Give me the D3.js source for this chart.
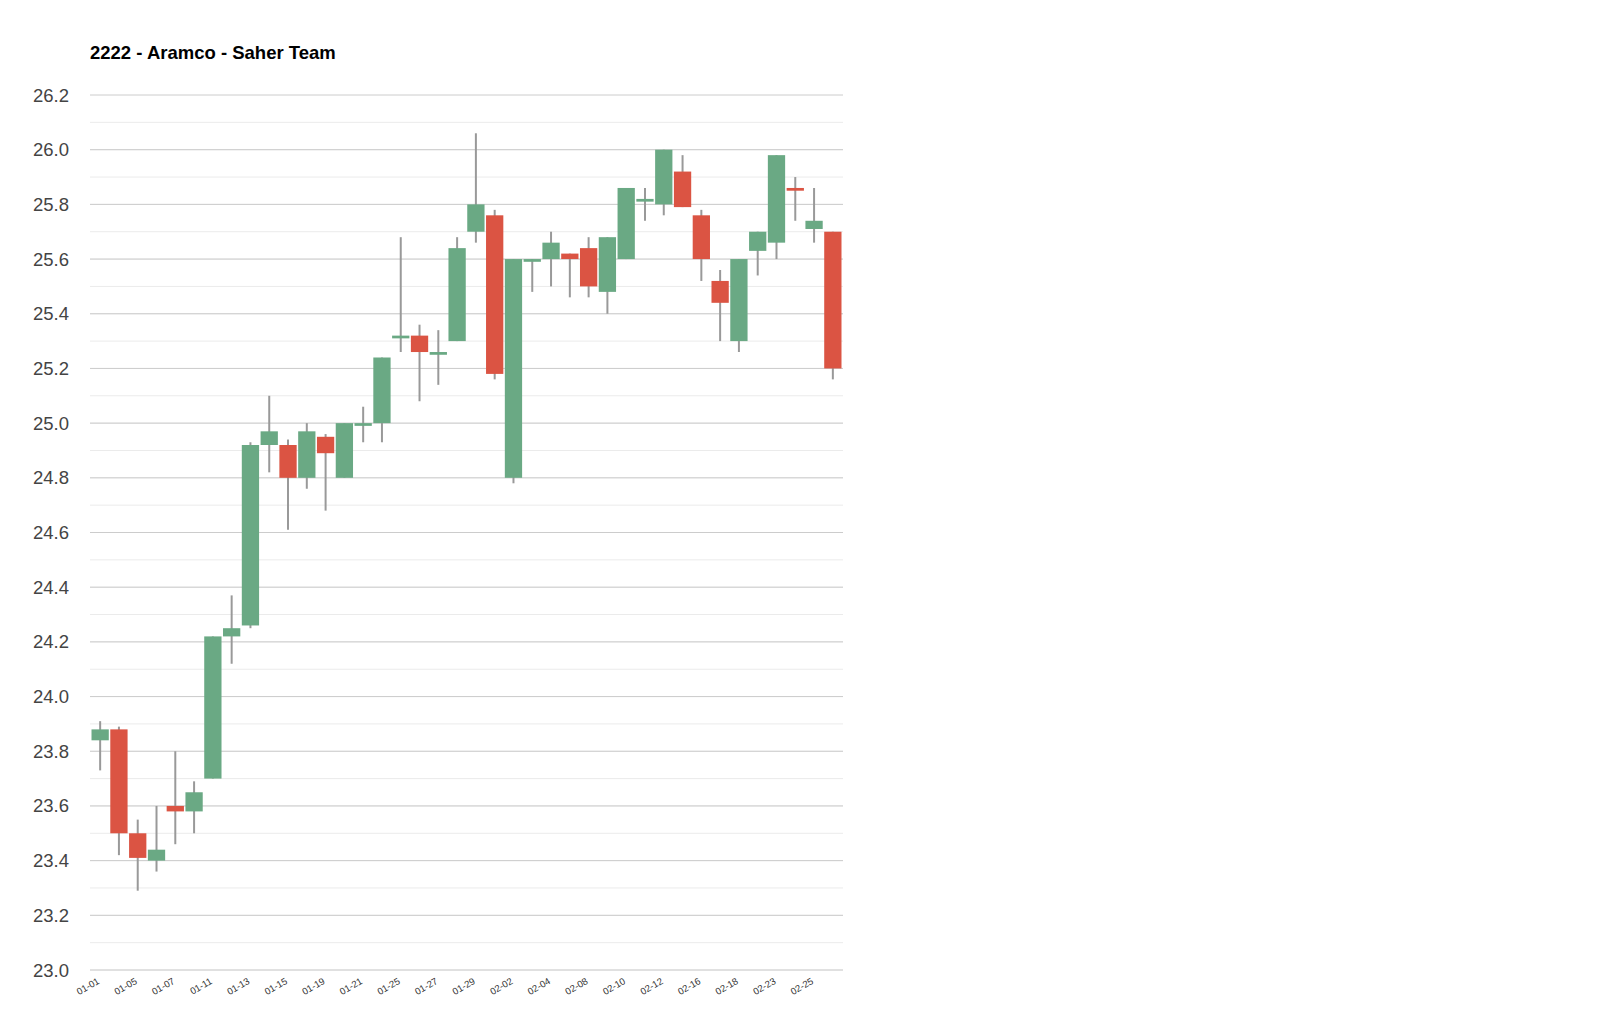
<!DOCTYPE html><html><head><meta charset="utf-8"><script src="https://cdn.jsdelivr.net/npm/d3@7"></script>
<style>body{margin:0;background:#fff;font-family:"Liberation Sans",Arial,sans-serif}</style></head><body><svg id="c" width="1600" height="1026"></svg>
<script>
const dates=["01-01","01-04","01-05","01-06","01-07","01-08","01-11","01-12","01-13","01-14","01-15","01-18","01-19","01-20","01-21","01-22","01-25","01-26","01-27","01-28","01-29","02-01","02-02","02-03","02-04","02-05","02-08","02-09","02-10","02-11","02-12","02-15","02-16","02-17","02-18","02-22","02-23","02-24","02-25","02-26"];
const open=[23.84,23.88,23.50,23.40,23.60,23.58,23.70,24.22,24.26,24.92,24.92,24.80,24.95,24.80,24.99,25.00,25.31,25.32,25.25,25.30,25.70,25.76,24.80,25.59,25.60,25.62,25.64,25.48,25.60,25.81,25.80,25.92,25.76,25.52,25.30,25.63,25.66,25.86,25.71,25.70];
const close=[23.88,23.50,23.41,23.44,23.58,23.65,24.22,24.25,24.92,24.97,24.80,24.97,24.89,25.00,25.00,25.24,25.32,25.26,25.26,25.64,25.80,25.18,25.60,25.60,25.66,25.60,25.50,25.68,25.86,25.82,26.00,25.79,25.60,25.44,25.60,25.70,25.98,25.85,25.74,25.20];
const high=[23.91,23.89,23.55,23.60,23.80,23.69,24.22,24.37,24.93,25.10,24.94,25.00,24.96,25.00,25.06,25.24,25.68,25.36,25.34,25.68,26.06,25.78,25.60,25.60,25.70,25.62,25.68,25.68,25.86,25.86,26.00,25.98,25.78,25.56,25.60,25.70,25.98,25.90,25.86,25.70];
const low=[23.73,23.42,23.29,23.36,23.46,23.50,23.70,24.12,24.25,24.82,24.61,24.76,24.68,24.80,24.93,24.93,25.26,25.08,25.14,25.30,25.66,25.16,24.78,25.48,25.50,25.46,25.46,25.40,25.60,25.74,25.76,25.79,25.52,25.30,25.26,25.54,25.60,25.74,25.66,25.16];
const yTicks=[23.0,23.2,23.4,23.6,23.8,24.0,24.2,24.4,24.6,24.8,25.0,25.2,25.4,25.6,25.8,26.0,26.2];
const title="2222 - Aramco - Saher Team";
const svg=d3.select("#c");
const L=90,R=843,T=95,B=970;
const x=d3.scaleBand().domain(dates).range([L,R]).padding(0.08);
const y=d3.scaleLinear().domain([23,26.2]).range([B,T]);
const minor=d3.range(230,262,1).map(v=>v/10);
svg.append("g").selectAll("line").data(minor).join("line").attr("x1",L).attr("x2",R).attr("y1",d=>y(d)).attr("y2",d=>y(d)).attr("stroke","#ebebeb");
svg.append("g").selectAll("line").data(yTicks).join("line").attr("x1",L).attr("x2",R).attr("y1",d=>y(d)).attr("y2",d=>y(d)).attr("stroke","#cccccc");
svg.append("g").selectAll("text").data(yTicks).join("text").attr("x",69).attr("y",d=>y(d)+6.5).attr("text-anchor","end").attr("font-size",18.5).attr("fill","#444").text(d=>d.toFixed(1));
svg.append("text").attr("x",90).attr("y",59).attr("font-weight","bold").attr("font-size",18.5).text(title);
const idx=d3.range(dates.length);
const cx=i=>x(dates[i])+x.bandwidth()/2;
svg.append("g").selectAll("line").data(idx).join("line").attr("x1",cx).attr("x2",cx).attr("y1",i=>y(high[i])).attr("y2",i=>y(low[i])).attr("stroke","#999").attr("stroke-width",2);
svg.append("g").selectAll("rect").data(idx).join("rect").attr("x",i=>x(dates[i])).attr("width",x.bandwidth())
 .attr("y",i=>y(Math.max(open[i],close[i]))).attr("height",i=>Math.max(2,Math.abs(y(open[i])-y(close[i]))))
 .attr("fill",i=>close[i]>=open[i]?"#6aa984":"#db5443");
svg.append("g").selectAll("text").data(idx.filter(i=>i%2==0)).join("text")
 .attr("transform",i=>`translate(${cx(i)},${B+13}) rotate(-30)`).attr("text-anchor","end").attr("font-size",9.5).attr("fill","#333").text(i=>dates[i]);
</script></body></html>
